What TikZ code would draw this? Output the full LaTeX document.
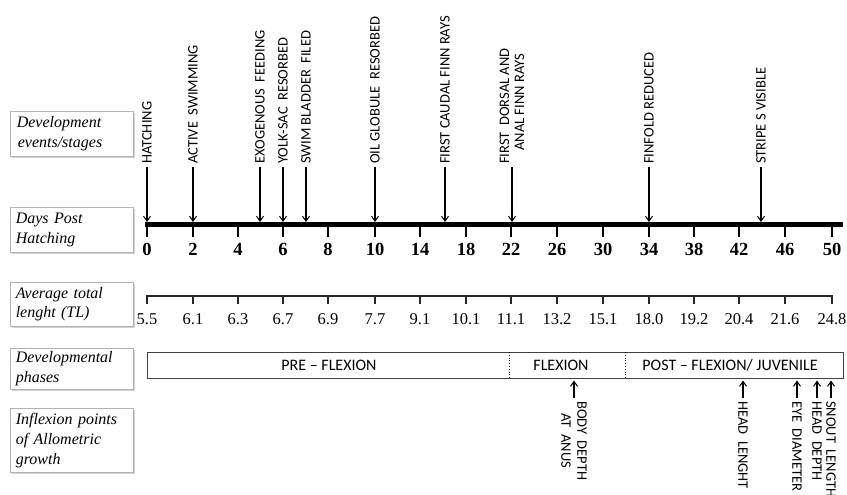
\documentclass[tikz,border=0pt]{standalone}
\usepackage{fontspec}
\setmainfont{Liberation Serif}
\newfontfamily\sansf{Carlito}
\usetikzlibrary{arrows.meta,shadows}
\begin{document}
\begin{tikzpicture}[x=1pt,y=-1pt,
  lbox/.style={draw=gray!60, fill=white, line width=0.6pt,
    drop shadow={shadow xshift=1.5pt,shadow yshift=-1.8pt,opacity=0.35},
    minimum width=123pt, inner sep=0pt, anchor=north west, align=left,
    text width=112pt, font=\fontsize{16}{19.5}\selectfont\itshape},
  evt/.style={rotate=90, anchor=west, inner sep=0pt, align=left,
    font=\sansf\fontsize{14.5}{15}\selectfont},
  inf/.style={rotate=-90, anchor=west, inner sep=0pt, align=center,
    font=\sansf\fontsize{14.5}{16}\selectfont},
  phtxt/.style={font=\sansf\fontsize{16}{18}\selectfont, inner sep=0pt},
  evarrow/.style={line width=1.1pt, -{Straight Barb[length=5pt,width=7pt,line width=1pt]}},
  dlab/.style={font=\fontsize{18.5}{20}\selectfont\bfseries, inner sep=0pt},
  tlab/.style={font=\fontsize{16.5}{18}\selectfont, inner sep=0pt}]
\useasboundingbox (0,0) rectangle (847,495);
\clip (0,0) rectangle (847,495);
\fill[white] (0,0) rectangle (847,495);

% left label boxes
\node[lbox, minimum height=45pt] (L1) at (10,111) {\hspace*{1pt}Development\\\hspace*{2pt}events/stages};
\node[lbox, minimum height=45pt] (L2) at (10,207) {Days Post\\Hatching};
\node[lbox, minimum height=44pt] (L3) at (10,282) {Average total\\lenght (TL)};
\node[lbox, minimum height=41pt] (L4) at (10,348) {Developmental\\phases};
\node[lbox, minimum height=64pt, font=\fontsize{16}{20}\selectfont\itshape] (L5) at (10,408) {Inflexion points\\of Allometric\\growth};

% days bar
\node[fill=black, minimum width=698pt, minimum height=5pt, inner sep=0pt, anchor=north west] (bar) at (145,222) {};
\foreach \x/\d in {147/0,193/2,238/4,283/6,328/8,375/10,420/14,466/18,511/22,557/26,603/30,649/34,694/38,739/42,785/46,832/50}{
  \draw[line width=2pt] (\x,226) -- (\x,237);
  \node[dlab] at (\x,249) {\d};
}

% total length axis
\draw[line width=1.6pt, black!85] (146,296) -- (833,296);
\foreach \x/\d in {147/5.5,193/6.1,238/6.3,283/6.7,328/6.9,375/7.7,420/9.1,466/10.1,511/11.1,557/13.2,603/15.1,649/18.0,694/19.2,739/20.4,785/21.6,832/24.8}{
  \draw[line width=1.2pt, black!85] (\x,296) -- (\x,304);
  \node[tlab] at (\x,319) {\d};
}

% events
\node[evt] (e1) at (147,164) {HATCHING};
\node[evt] (e2) at (193,164) {ACTIVE\ \ SWIMMING};
\node[evt] (e3) at (260,164) {EXOGENOUS\ \ FEEDING};
\node[evt] (e4) at (283,164) {YOLK-SAC\ \ RESORBED};
\node[evt] (e5) at (306,164) {SWIM BLADDER\ \ FILED};
\node[evt] (e6) at (375,164) {OIL GLOBULE\ \ RESORBED};
\node[evt] (e7) at (445,164) {FIRST CAUDAL FINN RAYS};
\node[evt] (e8) at (512,164) {FIRST\ \ DORSAL AND\\\ \ \ \ ANAL FINN RAYS};
\node[evt] (e9) at (649,164) {FINFOLD REDUCED};
\node[evt] (e10) at (761,164) {STRIPE S VISIBLE};
\foreach \e in {e1,e2,e3,e4,e5,e6,e7,e8,e9,e10}{
  \draw[evarrow] ([yshift=-3pt]\e.west) -- (\e.west |- bar.north);
}

% developmental phases
\node[draw=black!75, line width=1pt, minimum width=696pt, minimum height=26pt, inner sep=0pt, anchor=north west] (phases) at (147,352) {};
\draw[dotted, line width=0.8pt] (509,352) -- (509,378);
\draw[dotted, line width=0.8pt] (625,352) -- (625,378);
\node[phtxt] (p1) at (329,365) {PRE – FLEXION};
\node[phtxt] (p2) at (561,365) {FLEXION};
\node[phtxt] (p3) at (730,365) {POST – FLEXION/ JUVENILE};

% inflexion points
\node[inf] (i1) at (574,401) {BODY\ \ DEPTH\\AT\ \ ANUS};
\node[inf] (i2) at (743,401) {HEAD\ \ LENGHT};
\node[inf] (i3) at (797,401) {EYE\ \ DIAMETER};
\node[inf] (i4) at (817,401) {HEAD\ \ DEPTH};
\node[inf] (i5) at (831,401) {SNOUT\ \ LENGTH};
\foreach \i in {i1,i2,i3,i4,i5}{
  \draw[evarrow] ([yshift=3pt]\i.west) -- ([yshift=-1.5pt]\i.west |- phases.south);
}
\end{tikzpicture}
\end{document}
